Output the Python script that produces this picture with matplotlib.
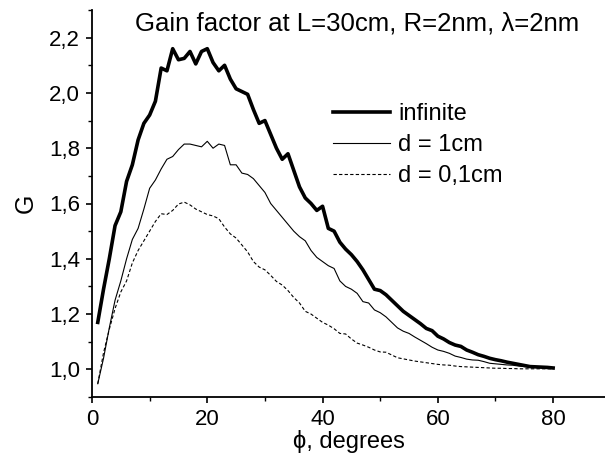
import matplotlib
matplotlib.use("Agg")
import matplotlib.pyplot as plt
from matplotlib.ticker import MultipleLocator, FixedLocator, FixedFormatter

plt.rcParams['font.family'] = ['Liberation Sans', 'DejaVu Sans']

phi = list(range(1, 81))

g_infinite = [1.17, 1.29, 1.40, 1.52, 1.57, 1.68, 1.74, 1.83, 1.89, 1.92,
              1.97, 2.09, 2.08, 2.16, 2.12, 2.125, 2.15, 2.105, 2.15, 2.16,
              2.11, 2.08, 2.10, 2.05, 2.015, 2.005, 1.995, 1.94, 1.89, 1.90,
              1.85, 1.80, 1.76, 1.78, 1.72, 1.66, 1.62, 1.60, 1.575, 1.59,
              1.51, 1.50, 1.46, 1.435, 1.415, 1.39, 1.36, 1.325, 1.29, 1.285,
              1.27, 1.25, 1.23, 1.21, 1.195, 1.18, 1.165, 1.148, 1.14, 1.12,
              1.11, 1.097, 1.088, 1.083, 1.07, 1.062, 1.053, 1.047, 1.04, 1.035,
              1.031, 1.026, 1.022, 1.018, 1.014, 1.01, 1.009, 1.008, 1.007, 1.005]

g_d1 = [0.948, 1.04, 1.15, 1.25, 1.32, 1.40, 1.47, 1.51, 1.58, 1.655,
        1.685, 1.725, 1.76, 1.77, 1.795, 1.815, 1.815, 1.81, 1.805, 1.825,
        1.80, 1.815, 1.81, 1.74, 1.74, 1.71, 1.705, 1.69, 1.665, 1.64,
        1.60, 1.575, 1.55, 1.525, 1.50, 1.48, 1.465, 1.43, 1.405, 1.39,
        1.375, 1.365, 1.32, 1.30, 1.29, 1.275, 1.245, 1.24, 1.215, 1.205,
        1.19, 1.17, 1.15, 1.138, 1.13, 1.117, 1.105, 1.093, 1.08, 1.07,
        1.065, 1.058, 1.048, 1.043, 1.037, 1.034, 1.033, 1.028, 1.022, 1.02,
        1.018, 1.016, 1.015, 1.012, 1.01, 1.008, 1.007, 1.006, 1.006, 1.006]

g_d01 = [0.948, 1.06, 1.145, 1.22, 1.28, 1.32, 1.385, 1.43, 1.465, 1.50,
         1.535, 1.563, 1.56, 1.575, 1.598, 1.605, 1.595, 1.58, 1.57, 1.56,
         1.555, 1.545, 1.515, 1.49, 1.475, 1.45, 1.425, 1.39, 1.37, 1.36,
         1.34, 1.318, 1.305, 1.285, 1.26, 1.24, 1.21, 1.20, 1.185, 1.17,
         1.16, 1.147, 1.13, 1.128, 1.11, 1.095, 1.088, 1.08, 1.07, 1.063,
         1.062, 1.052, 1.042, 1.038, 1.034, 1.03, 1.027, 1.024, 1.021, 1.018,
         1.016, 1.015, 1.012, 1.01, 1.009, 1.008, 1.007, 1.006, 1.005, 1.004,
         1.004, 1.003, 1.003, 1.002, 1.002, 1.002, 1.002, 1.002, 1.002, 1.002]

y_ticks = [1.0, 1.2, 1.4, 1.6, 1.8, 2.0, 2.2]
y_tick_labels = ['1,0', '1,2', '1,4', '1,6', '1,8', '2,0', '2,2']
x_ticks = [0, 20, 40, 60, 80]

fig = plt.figure(figsize=(6.05, 4.55), dpi=100)
ax = fig.add_axes([92 / 605, 1 - 397 / 455, 1 - 92 / 605, (397 - 10) / 455])

ax.plot(phi, g_infinite, color='black', lw=2.6, label='infinite')
ax.plot(phi, g_d1, color='black', lw=0.8, label='d = 1cm')
ax.plot(phi, g_d01, color='black', lw=0.8, linestyle=(0, (3, 2)), label='d = 0,1cm')

ax.set_xlim(0, 89)
ax.set_ylim(0.9, 2.3)

ax.xaxis.set_major_locator(FixedLocator(x_ticks))
ax.xaxis.set_minor_locator(MultipleLocator(10))
ax.yaxis.set_major_locator(FixedLocator(y_ticks))
ax.yaxis.set_major_formatter(FixedFormatter(y_tick_labels))
ax.yaxis.set_minor_locator(MultipleLocator(0.1))

for side in ['top', 'right']:
    ax.spines[side].set_visible(False)
for side in ['left', 'bottom']:
    ax.spines[side].set_linewidth(1.3)

ax.tick_params(which='major', direction='out', length=4.5, width=1.2, labelsize=16, pad=4)
ax.tick_params(which='minor', direction='out', length=2.6, width=1.0)

ax.set_xlabel('ϕ, degrees', fontsize=17, labelpad=0)
ax.set_ylabel('G', fontsize=18, labelpad=8)

fig.text(357 / 605, 1 - 24 / 455, 'Gain factor at L=30cm, R=2nm, λ=2nm',
         fontsize=18.5, ha='center', va='center')

ax.legend(loc='upper left', bbox_to_anchor=(333 / 605, 1 - 103 / 455),
          bbox_transform=fig.transFigure, frameon=False, fontsize=17,
          handlelength=2.4, handletextpad=0.35, labelspacing=0.38, borderpad=0,
          borderaxespad=0)

fig.savefig('out.png', dpi=100)
